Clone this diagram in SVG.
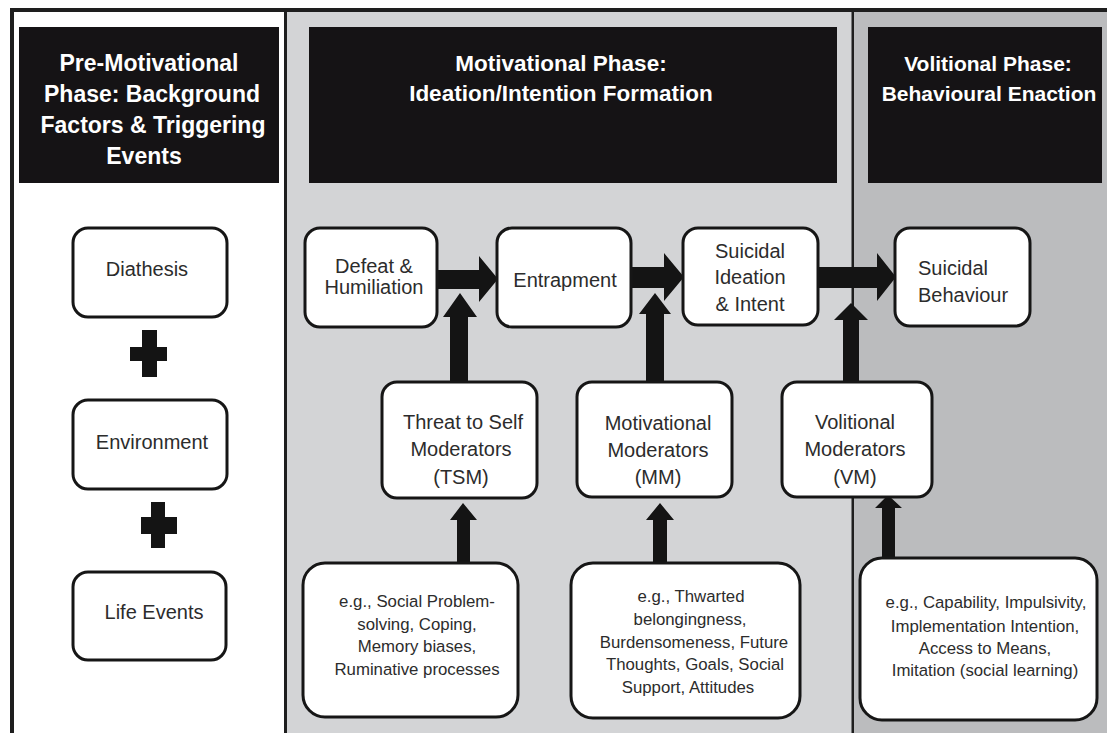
<svg xmlns="http://www.w3.org/2000/svg" width="1107" height="733" viewBox="0 0 1107 733">
  <style>
    .hdr { fill: #151315; }
    .htxt { fill: #ffffff; font-family: "Liberation Sans", Arial, sans-serif; font-weight: bold; text-anchor: middle; }
    .box { fill: #ffffff; stroke: #161616; stroke-width: 3; }
    .ntxt { fill: #2c2c2c; font-family: "Liberation Sans", Arial, sans-serif; font-size: 20px; text-anchor: middle; }
    .ntxt.left { text-anchor: start; }
    .stxt { fill: #2c2c2c; font-family: "Liberation Sans", Arial, sans-serif; font-size: 16.8px; text-anchor: middle; }
    .arr { fill: #141414; }
  </style>

  <!-- phase columns -->
  <g id="columns">
    <rect x="0" y="0" width="1107" height="733" fill="#ffffff"/>
    <rect x="14" y="12" width="272" height="721" fill="#ffffff"/>
    <rect x="286" y="12" width="567" height="721" fill="#d3d4d6"/>
    <rect x="853" y="12" width="254" height="721" fill="#bbbcbe"/>
    <rect x="10" y="8" width="1097" height="4" fill="#1e1e1e"/>
    <rect x="10" y="8" width="4" height="725" fill="#1e1e1e"/>
    <rect x="284" y="12" width="3" height="721" fill="#1e1e1e"/>
    <rect x="851.5" y="12" width="2.5" height="721" fill="#1e1e1e"/>
  </g>

  <!-- phase headers -->
  <g id="header-premotivational">
    <rect class="hdr" x="19" y="27" width="260" height="156"/>
    <text class="htxt" font-size="23" x="149" y="71">Pre-Motivational</text>
    <text class="htxt" font-size="23" x="152" y="102">Phase: Background</text>
    <text class="htxt" font-size="23" x="153" y="133">Factors &amp; Triggering</text>
    <text class="htxt" font-size="23" x="144" y="164">Events</text>
  </g>
  <g id="header-motivational">
    <rect class="hdr" x="309" y="27" width="528" height="156"/>
    <text class="htxt" font-size="22.5" x="561" y="71">Motivational Phase:</text>
    <text class="htxt" font-size="22.5" x="561" y="101">Ideation/Intention Formation</text>
  </g>
  <g id="header-volitional">
    <rect class="hdr" x="868" y="27" width="234" height="156"/>
    <text class="htxt" font-size="21" x="988" y="71">Volitional Phase:</text>
    <text class="htxt" font-size="21" x="989" y="101">Behavioural Enaction</text>
  </g>

  <!-- block arrows (drawn under the boxes they meet) -->
  <g id="connectors">
    <polygon class="arr" points="437,270 479,270 479,256 498,279 479,302 479,289 437,289"/>
    <polygon class="arr" points="631,267 664,267 664,253 684,277 664,301 664,288 631,288"/>
    <polygon class="arr" points="818,267 877,267 877,253 896,277 877,301 877,288 818,288"/>
    <polygon class="arr" points="450,382 450,317 443,317 460,293 477,317 468,317 468,382"/>
    <polygon class="arr" points="646,382 646,314 639,314 655,293 671,314 664,314 664,382"/>
    <polygon class="arr" points="843,382 843,320 834,320 851,303 868,320 859,320 859,382"/>
    <polygon class="arr" points="457,563 457,520 450,520 463,503 477,520 470,520 470,563"/>
    <polygon class="arr" points="653,563 653,520 646,520 660,503 674,520 667,520 667,563"/>
    <polygon class="arr" points="882,558 882,508 875,508 888,495 902,508 895,508 895,558"/>
  </g>

  <!-- background factors -->
  <g id="diathesis">
    <rect class="box" x="73" y="228" width="154" height="89" rx="15"/>
    <text class="ntxt" x="147" y="276">Diathesis</text>
  </g>
  <g id="plus-1">
    <rect class="arr" x="142" y="330" width="15" height="47"/>
    <rect class="arr" x="130" y="347" width="37" height="14"/>
  </g>
  <g id="environment">
    <rect class="box" x="73" y="400" width="154" height="89" rx="15"/>
    <text class="ntxt" x="152" y="449">Environment</text>
  </g>
  <g id="plus-2">
    <rect class="arr" x="151" y="502" width="14" height="46"/>
    <rect class="arr" x="141" y="517" width="36" height="17"/>
  </g>
  <g id="life-events">
    <rect class="box" x="73" y="572" width="153" height="88" rx="15"/>
    <text class="ntxt" x="154" y="619">Life Events</text>
  </g>

  <!-- main pathway -->
  <g id="defeat">
    <rect class="box" x="305" y="228" width="132" height="99" rx="15"/>
    <text class="ntxt" x="374" y="273">Defeat &amp;</text>
    <text class="ntxt" x="374" y="294">Humiliation</text>
  </g>
  <g id="entrapment">
    <rect class="box" x="497" y="228" width="134" height="99" rx="15"/>
    <text class="ntxt" x="565" y="287">Entrapment</text>
  </g>
  <g id="ideation">
    <rect class="box" x="683" y="228" width="135" height="97" rx="15"/>
    <text class="ntxt" x="750" y="258">Suicidal</text>
    <text class="ntxt" x="750" y="284">Ideation</text>
    <text class="ntxt" x="750" y="311">&amp; Intent</text>
  </g>
  <g id="behaviour">
    <rect class="box" x="895" y="228" width="135" height="98" rx="15"/>
    <text class="ntxt left" x="918" y="275">Suicidal</text>
    <text class="ntxt left" x="918" y="302">Behaviour</text>
  </g>

  <!-- moderators -->
  <g id="tsm">
    <rect class="box" x="382" y="382" width="155" height="116" rx="15"/>
    <text class="ntxt" x="463" y="429">Threat to Self</text>
    <text class="ntxt" x="461" y="456">Moderators</text>
    <text class="ntxt" x="461" y="484">(TSM)</text>
  </g>
  <g id="mm">
    <rect class="box" x="577" y="382" width="155" height="115" rx="15"/>
    <text class="ntxt" x="658" y="430">Motivational</text>
    <text class="ntxt" x="658" y="457">Moderators</text>
    <text class="ntxt" x="658" y="484">(MM)</text>
  </g>
  <g id="vm">
    <rect class="box" x="782" y="382" width="150" height="115" rx="15"/>
    <text class="ntxt" x="855" y="429">Volitional</text>
    <text class="ntxt" x="855" y="456">Moderators</text>
    <text class="ntxt" x="855" y="484">(VM)</text>
  </g>

  <!-- moderator examples -->
  <g id="tsm-examples">
    <rect class="box" x="303" y="563" width="215" height="154" rx="22"/>
    <text class="stxt" x="417" y="607">e.g., Social Problem-</text>
    <text class="stxt" x="417" y="630">solving, Coping,</text>
    <text class="stxt" x="417" y="652">Memory biases,</text>
    <text class="stxt" x="417" y="675">Ruminative processes</text>
  </g>
  <g id="mm-examples">
    <rect class="box" x="571" y="563" width="229" height="155" rx="22"/>
    <text class="stxt" x="691" y="602">e.g., Thwarted</text>
    <text class="stxt" x="690" y="625">belongingness,</text>
    <text class="stxt" x="694" y="648">Burdensomeness, Future</text>
    <text class="stxt" x="695" y="670">Thoughts, Goals, Social</text>
    <text class="stxt" x="688" y="693">Support, Attitudes</text>
  </g>
  <g id="vm-examples">
    <rect class="box" x="860" y="558" width="237" height="162" rx="22"/>
    <text class="stxt" x="986" y="608">e.g., Capability, Impulsivity,</text>
    <text class="stxt" x="985" y="632">Implementation Intention,</text>
    <text class="stxt" x="985" y="654">Access to Means,</text>
    <text class="stxt" x="985" y="676">Imitation (social learning)</text>
  </g>
</svg>
